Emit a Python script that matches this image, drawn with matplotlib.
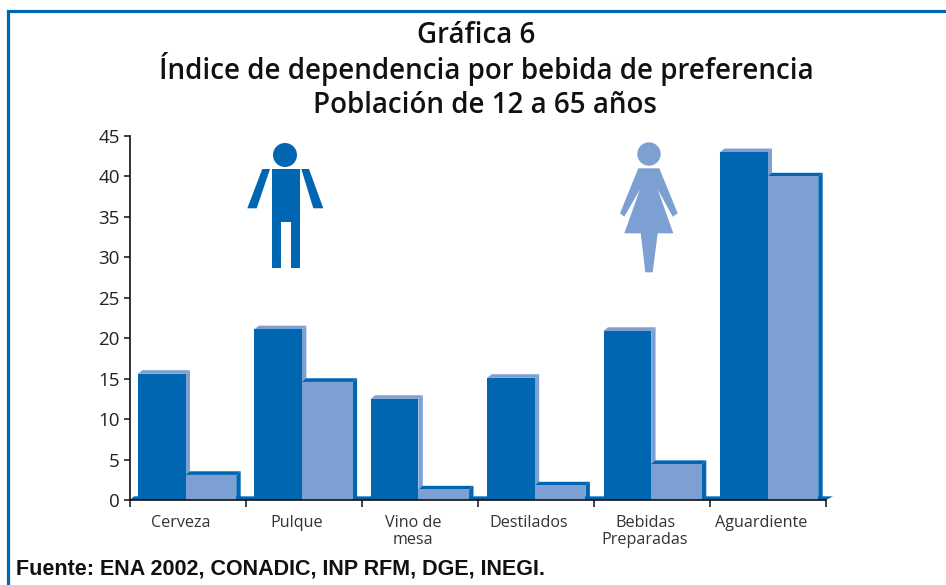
import matplotlib
matplotlib.use("Agg")
import matplotlib.pyplot as plt
from matplotlib.patches import Polygon, Circle
from matplotlib.transforms import Affine2D

categories = ["Cerveza", "Pulque", "Vino de\nmesa", "Destilados", "Bebidas\nPreparadas", "Aguardiente"]
hombres = [15.6, 21.1, 12.5, 15.1, 20.9, 43.0]
mujeres = [3.1, 14.6, 1.3, 1.8, 4.45, 40.0]
yticks = [0, 5, 10, 15, 20, 25, 30, 35, 40, 45]
title_lines = ["Gráfica 6", "Índice de dependencia por bebida de preferencia", "Población de 12 a 65 años"]
title_centers = [476, 486, 485]
source = "Fuente: ENA 2002, CONADIC, INP RFM, DGE, INEGI."

DARK = "#0066B2"
LIGHT = "#7DA0D2"
W, H = 946, 585
FONT = "Open Sans"

fig = plt.figure(figsize=(W / 100, H / 100), dpi=100, facecolor="white")
L, R, B, T = 129.7, 826, 500, 136
ax = fig.add_axes([L / W, 1 - B / H, (R - L) / W, (B - T) / H])
ax.set_xlim(0, 6)
ax.set_ylim(0, 45)
ax.patch.set_alpha(0)

dx, dy = 0.038, 0.45
off, w1, w2, step = 0.0714, 0.41, 0.437, 1.003


def extrude(left, right, v, face):
    ax.fill([left, left + dx, right + dx, right], [v, v + dy, v + dy, v], color=face, lw=0, zorder=2)
    ax.fill([right, right + dx, right + dx, right], [v, v + dy, 0, 0], color=face, lw=0, zorder=2)


ax.fill([0, dx, 6 + 0.06, 6], [0, dy, dy, 0], color=DARK, lw=0, zorder=1, clip_on=False)
for i, (a, b) in enumerate(zip(hombres, mujeres)):
    x0 = i * step + off
    extrude(x0, x0 + w1, a, LIGHT)
    ax.bar(x0, a, w1, align="edge", color=DARK, lw=0, zorder=3)
for i, (a, b) in enumerate(zip(hombres, mujeres)):
    x1 = i * step + off + w1
    extrude(x1, x1 + w2, b, DARK)
    ax.bar(x1, b, w2, align="edge", color=LIGHT, lw=0, zorder=4)

for s in ("top", "right"):
    ax.spines[s].set_visible(False)
for s in ("left", "bottom"):
    ax.spines[s].set_linewidth(1.2)
    ax.spines[s].set_color("#111111")
    ax.spines[s].set_zorder(6)

ax.set_yticks(yticks)
ax.set_yticklabels([str(v) for v in yticks], fontsize=13.5, family=FONT, color="#222222")
ax.tick_params(axis="y", length=4, width=1.1, pad=3, color="#111111")
ax.set_xticks(range(7))
ax.set_xticklabels([])
ax.tick_params(axis="x", which="major", length=5, width=1.1, color="#111111")
ax.set_xticks([i + 0.44 for i in range(6)], minor=True)
ax.set_xticklabels(categories, minor=True, fontsize=11.6, family=FONT, color="#333333", linespacing=1.05)
ax.tick_params(axis="x", which="minor", length=0, pad=11)

px = Affine2D().scale(1, -1).translate(0, H)


def shape(pts, color):
    fig.add_artist(Polygon(pts, closed=True, facecolor=color, edgecolor="none", transform=px))


# Figuras de hombre y mujer (pictogramas)
fig.add_artist(Circle((285, 155), 12, facecolor=DARK, edgecolor="none", transform=px))
shape([(271.7, 169), (300, 169), (300, 268.3), (290.7, 268.3), (290.7, 221.7),
       (280.7, 221.7), (280.7, 268.3), (271.7, 268.3)], DARK)
shape([(262.3, 169), (270, 169), (256.7, 208.3), (247.3, 208.3)], DARK)
shape([(301.3, 169), (309, 169), (323.3, 208.3), (313.3, 208.3)], DARK)

fig.add_artist(Circle((649, 154), 11.7, facecolor=LIGHT, edgecolor="none", transform=px))
shape([(638.3, 168.3), (659.3, 168.3), (677.7, 213.3), (672.7, 216.7), (657.7, 189.3),
       (673.3, 233.3), (657.7, 233.3), (652.7, 272.3), (645.3, 272.3), (640.7, 233.3),
       (624.3, 233.3), (640, 189.3), (624.3, 216.7), (620, 213.3)], LIGHT)

# Marco azul
fig.add_artist(plt.Line2D([8, 8, W], [H, 10.5, 10.5], color=DARK, lw=2.3, transform=px,
                          solid_joinstyle="miter"))

for y, cx, line in zip((43, 79, 113), title_centers, title_lines):
    fig.text(cx / W, 1 - y / H, line, ha="center", va="baseline", fontsize=20,
             family=FONT, weight="semibold", color="#111111")

fig.text(16 / W, 1 - 575 / H, source, ha="left", va="baseline", fontsize=15.5,
         family="Liberation Sans", weight="bold", color="#111111")

fig.savefig("out.png", dpi=100)
